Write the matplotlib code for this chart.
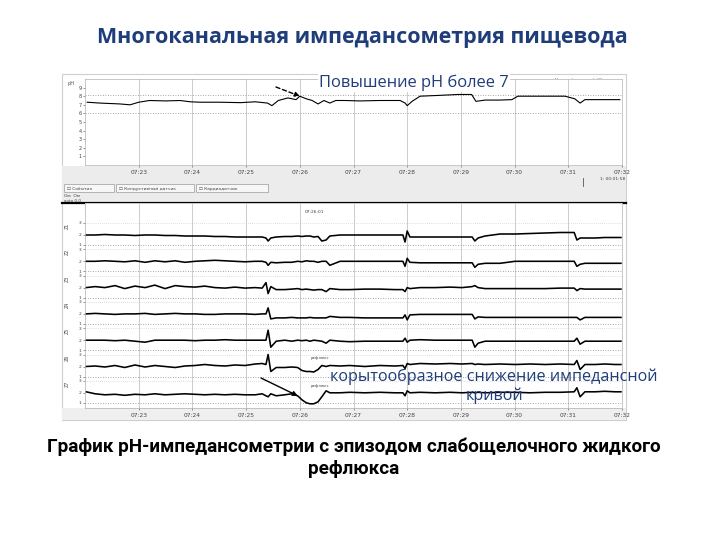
import matplotlib
matplotlib.use("Agg")
import matplotlib.pyplot as plt
from matplotlib.patches import Rectangle

W, H = 720, 540
NAVY = "#1f3d7a"
FONT = ["Open Sans", "DejaVu Sans"]

TITLE = "Многоканальная импедансометрия пищевода"
CAPTION = "График pH-импедансометрии с эпизодом слабощелочного жидкого\nрефлюкса"
NOTE_PH = "Повышение pH более 7"
NOTE_Z = "корытообразное снижение импедансной\nкривой"

# minutes after 07:22
TIME_TICKS = [1, 2, 3, 4, 5, 6, 7, 8, 9, 10]
TIME_LABELS = ["07:23", "07:24", "07:25", "07:26", "07:27",
               "07:28", "07:29", "07:30", "07:31", "07:32"]

# pH channel
ph_t = [0.04, 0.28, 0.65, 0.84, 1.0, 1.2, 1.5, 1.77, 1.96, 2.14, 2.5, 2.9, 3.17,
        3.4, 3.48, 3.6, 3.78, 3.93, 4.0, 4.12, 4.23, 4.34, 4.45, 4.56, 4.67, 4.84,
        5.12, 5.49, 5.87, 5.96, 6.0, 6.09, 6.24, 6.61, 6.95, 7.2, 7.28, 7.45, 7.73,
        7.95, 8.06, 8.47, 8.94, 9.12, 9.22, 9.31, 9.6, 9.96]
ph_v = [7.3, 7.2, 7.1, 7.0, 7.3, 7.5, 7.45, 7.5, 7.35, 7.3, 7.3, 7.25, 7.35,
        7.2, 6.9, 7.5, 7.8, 7.6, 8.0, 7.7, 7.5, 7.1, 7.5, 7.2, 7.5, 7.5,
        7.45, 7.5, 7.5, 7.2, 6.9, 7.4, 8.0, 8.1, 8.2, 8.2, 7.4, 7.55, 7.55,
        7.6, 8.0, 8.0, 8.0, 7.7, 7.2, 7.6, 7.6, 7.6]

# impedance channels, deviation from each channel's baseline (up = higher impedance)
z_t = [0.02, 0.19, 0.37, 0.56, 0.74, 0.93, 1.12, 1.30, 1.49, 1.68, 1.86, 2.05, 2.23,
       2.42, 2.61, 2.79, 2.98, 3.17, 3.30, 3.37, 3.41, 3.46, 3.56, 3.72, 3.85, 3.96,
       4.04, 4.12, 4.19, 4.26, 4.34, 4.41, 4.49, 4.56, 4.75, 4.93, 5.21, 5.49, 5.77,
       5.92, 5.96, 6.00, 6.05, 6.24, 6.52, 6.80, 7.02, 7.21, 7.26, 7.32, 7.45, 7.73,
       8.01, 8.29, 8.57, 8.85, 9.11, 9.16, 9.22, 9.31, 9.50, 9.68, 9.87, 9.98]
z1 = [0, 0, 0.5, 0, 0, -0.5, 0, 0, -0.5, -0.5, -1, -1, -1, -1.5, -1.5, -2, -2, -2,
      -2, -3, -6, -3, -2, -1.5, -1.5, -1, -1.5, -1, -1, -2, -1.5, -6, -5, -1, 0, 0,
      0, 0, 0, 0, -7, 4, -2, -2, -2, -2, -2, -2, -6, -3, -1, 1, 1, 1.5, 2, 2.5,
      2.5, -5, -3, -3, -3, -2.5, -2.5, -2.5]
z2 = [0, 0, 0.5, 0, -0.5, 0.5, -1, 0.5, -0.5, 0.5, -1, 0, 0.5, 1, 0.5, 0, -0.5, 0,
      0, -1, -4, -1, -1.5, -1, -1, 0, -0.5, 0.5, 0, 0, -1, 0, 0, -4, 0, 0,
      0, 0, 0, 0, -5, 3, -1, -1.5, -1.5, -1.5, -1.5, -1.5, -6, -3, -2, -2, 0, 0, 0, 0,
      0, -5, -3, -2, -2, -2, -2, -2]
z3 = [0, 1, 0, 2, -1, 1.5, 0, 2.5, -1, 2, 1, 0.5, 1.5, 0, -0.5, 0.5, -0.5, 0,
      -0.5, 5, -6, 1, -2, -2, -1.5, -1, -2, -1.5, -2, -2.5, -2, -2, -4, -1, -2, -2,
      -1.5, -1.5, -2, -2, -4, 0, -1, 0, 0, 0.5, 0, 1, 2, 0, -1, -1, -1, -1, -1, -0.5,
      -0.5, -3, -1, -1.5, -1.5, -1.5, -1.5, -1.5]
z4 = [0, 0.5, 0, -0.5, 0, 0, 0.5, -0.5, 0, 0.5, 0, 0, -0.5, -0.5, 0, 0, 0, -0.5,
      0, 0, 6, -5, -4, -4, -3.5, -4, -4, -4, -3.5, -4, -4, -4, -4, -2.5, -3.5, -3.5,
      -4, -4, -4, -4, -1, -6, -1, -0.5, -0.5, -0.5, -0.5, -0.5, -5, -3, -3.5, -3.5, -3.5, -3.5, -3.5, -3.5,
      -3.5, -3.5, -6, -3.5, -3.5, -3.5, -3.5, -3.5]
z5 = [0, 0, 0, -0.5, 0, -1, -2, 0, 0, 0, 0, -0.5, 0, 0, 0.5, 0, 0, 0,
      0, 0, 10, -7, -1, 0, -1, 0, -0.5, 0, -1, 0, -0.5, -1, -3, 0, -1, -1.5,
      -1, -1, -1, -1, 2, -2, 0, 0.5, 0, 0, 0, 0, -7, -3, -1, -1, -1, -1, -1, -1,
      -1, 2, -4, -1, -1, -1, -1, -1]
z6 = [0, 0.5, -0.5, 1, -1, 1.5, -0.5, 1, 0, -1, 0.5, 1, 2, 1, 0.5, 1.5, 1, 2.5,
      3, 2, 12, -5, -1, -1, -0.5, -1, -4, -5, -5, -5.5, -3, 1, 0, 1, 0.5, 1,
      0, 1, 0.5, 1, -2, 3, 2, 3, 2.5, 3, 2.5, 3, 2, 2.5, 2, 2.5, 2, 2.5, 2, 2.5,
      2, 6, -3, 2, 2, 2.5, 2, 2]
z7 = [1, -1, -2, -1.5, -2.5, -1.5, -2, -1, -2, -1.5, -1, -1.5, -2, -1.5, -2, -1.5, -2, -2,
      -1, -3, -4, -1, -3, -2, -1, -3, -7, -10, -11, -11, -9, -4, 2, 0, 0, 0.5,
      0, 0.5, 0, 0, -3, 2, 0, 0.5, 0, 0.5, 0, 0.5, 0, 0.5, 0, 0.5, 0.5, 0, 0.5, 0.5,
      1, 5, -4, 1, 1, 1.5, 1, 1]
Z_CHANNELS = [z1, z2, z3, z4, z5, z6, z7]
Z_NAMES = ["Z1", "Z2", "Z3", "Z4", "Z5", "Z6", "Z7"]
Z_STEP = 26.3


def fx(x):
    return x / W


def fy(y):
    return 1 - y / H


fig = plt.figure(figsize=(7.2, 5.4), dpi=100)
fig.patch.set_facecolor("white")

# screenshot frame (pixel coords)
bg = fig.add_axes([0, 0, 1, 1], zorder=0)
bg.set_xlim(0, W); bg.set_ylim(H, 0); bg.axis("off")
bg.add_patch(Rectangle((62, 74), 564, 346, fc="white", ec="#cfcfcf", lw=0.8))
bg.add_patch(Rectangle((62, 166), 564, 36, fc="#ececec", ec="none"))
bg.add_patch(Rectangle((62, 408), 564, 12, fc="#efefef", ec="none"))
bg.plot([62, 626], [203, 203], color="black", lw=1.6)
for x0, w, lab in [(64, 50, "События"), (116, 78, "Кондуктивный датчик"),
                   (196, 72, "Кардиодатчик")]:
    bg.add_patch(Rectangle((x0, 184), w, 8, fc="#f7f7f7", ec="#9a9a9a", lw=0.5))
    bg.text(x0 + 3, 188.5, "☐ " + lab, fontsize=3.2, va="center", color="#444")
bg.text(64, 196, "Ом  Ом", fontsize=3.2, va="center", color="#444")
bg.text(64, 201, "auto 0.0", fontsize=3.0, va="center", color="#444")
bg.text(555, 80, "Нижний датчик (pH)", fontsize=3.2, va="center", color="#444")
bg.text(600, 179, "1: 00:01:58", fontsize=3.2, va="center", color="#444")
bg.plot([583, 583], [178, 186], color="#555", lw=0.6)

# pH panel
ax_ph = fig.add_axes([fx(85), fy(165), fx(622 - 85), (165 - 79) / H], zorder=2)
ax_ph.set_xlim(0, 10)
ax_ph.set_ylim(0, 10)
for m in TIME_TICKS:
    ax_ph.axvline(m, color="#c4c4c4", lw=0.6, zorder=0)
for lvl in [6.1, 8.1]:
    ax_ph.axhline(lvl, color="#8a8a8a", lw=0.6, ls=(0, (1, 2)), zorder=0)
ax_ph.plot(ph_t, ph_v, color="black", lw=0.8)
ax_ph.set_xticks(TIME_TICKS, TIME_LABELS)
ax_ph.set_yticks(range(1, 10))
ax_ph.tick_params(labelsize=3.6, length=1.5, width=0.4, colors="#444", pad=1)
ax_ph.tick_params(axis="x", labelsize=4.2, pad=2)
for s in ax_ph.spines.values():
    s.set_color("#b0b0b0"); s.set_linewidth(0.5)
fig.text(fx(67), fy(83), "pH", fontsize=3.6, color="#444", va="center")

# impedance panel
ax_z = fig.add_axes([fx(85), fy(408), fx(622 - 85), (408 - 203) / H], zorder=2)
ax_z.set_xlim(0, 10)
ax_z.set_ylim(-173, 32)
for m in TIME_TICKS:
    ax_z.axvline(m, color="#c4c4c4", lw=0.6, zorder=0)
yt, yl = [], []
for i, (z, name) in enumerate(zip(Z_CHANNELS, Z_NAMES)):
    base = -Z_STEP * i
    ax_z.axhline(base - 10, color="#8a8a8a", lw=0.6, ls=(0, (1, 2)), zorder=0)
    ax_z.axhline(base + 12, color="#c0c0c0", lw=0.5, ls=(0, (1, 2)), zorder=0)
    ax_z.plot(z_t, [base + v for v in z], color="black", lw=1.15)
    yt += [base + 12, base, base - 10]
    yl += ["3", "2", "1"]
    ax_z.text(-0.33, base + 9, name, fontsize=3.4, rotation=90, color="#444",
              ha="center", va="center", clip_on=False)
ax_z.set_yticks(yt, yl)
ax_z.set_xticks(TIME_TICKS, TIME_LABELS)
ax_z.tick_params(labelsize=3.2, length=1.5, width=0.4, colors="#444", pad=1)
ax_z.tick_params(axis="x", labelsize=4.2, pad=2)
for s in ax_z.spines.values():
    s.set_color("#b0b0b0"); s.set_linewidth(0.5)
ax_z.text(4.1, 22, "07:26:01", fontsize=3.2, color="#444")
ax_z.text(4.2, -Z_STEP * 5 + 7, "рефлюкс", fontsize=2.8, color="#444")
ax_z.text(4.2, -Z_STEP * 6 + 6, "рефлюкс", fontsize=2.8, color="#444")

# slide text + annotations
top = fig.add_axes([0, 0, 1, 1], zorder=10)
top.set_xlim(0, W); top.set_ylim(H, 0); top.axis("off")
top.text(362, 38, TITLE, fontsize=15.5, fontweight="bold", color=NAVY,
         ha="center", va="center", family=FONT)
top.text(354, 458, CAPTION, fontsize=13.6, fontweight="bold", color="black",
         ha="center", va="center", linespacing=1.25, family=["Roboto", "DejaVu Sans"])
top.text(414, 83, NOTE_PH, fontsize=11.9, color=NAVY, ha="center", va="center",
         family=FONT, bbox=dict(fc="white", ec="none", pad=0.5))
top.text(494, 386, NOTE_Z, fontsize=11.6, color=NAVY, ha="center", va="center",
         linespacing=1.2, family=FONT)
top.annotate("", xy=(4.0, 8.0), xycoords=ax_ph.transData, xytext=(276, 87),
             textcoords="data",
             arrowprops=dict(arrowstyle="-|>", color="black", lw=1.0, ls=(0, (3, 2)),
                             mutation_scale=7, shrinkA=0, shrinkB=0))
top.annotate("", xy=(3.96, -Z_STEP * 6 - 3), xycoords=ax_z.transData, xytext=(261, 378),
             textcoords="data",
             arrowprops=dict(arrowstyle="-|>", color="black", lw=1.0,
                             mutation_scale=7, shrinkA=0, shrinkB=0))

fig.savefig("out.png", dpi=100, facecolor="white")
